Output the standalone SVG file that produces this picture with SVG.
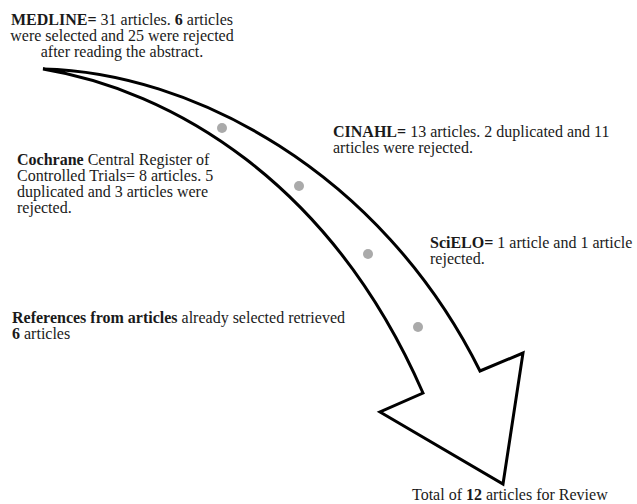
<svg xmlns="http://www.w3.org/2000/svg" width="637" height="504" viewBox="0 0 637 504">
<style>
text{font-family:"Liberation Serif","Times New Roman",serif;font-size:16px;fill:#1a1a1a}
.b{font-weight:bold}
.dot{fill:#aaaaaa}
</style>
<rect width="637" height="504" fill="#ffffff"/>
<g id="connectors">
<path d="M43,69 C190,72 380,170 480,371 L523,353 L503,484 L380,412 L423,393 C330,180 170,90 43,69 Z" fill="#ffffff" stroke="#000000" stroke-width="3" stroke-linejoin="miter"/>
<circle class="dot" cx="222" cy="128" r="5"/>
<circle class="dot" cx="299" cy="186" r="5"/>
<circle class="dot" cx="368" cy="254" r="5"/>
<circle class="dot" cx="418" cy="327" r="5"/>
</g>
<g id="medline">
<text x="122" y="25" text-anchor="middle"><tspan class="b">MEDLINE=</tspan> 31 articles. <tspan class="b">6</tspan> articles</text>
<text x="122" y="41" text-anchor="middle">were selected and 25 were rejected</text>
<text x="122" y="57" text-anchor="middle">after reading the abstract.</text>
</g>
<g id="cochrane">
<text x="17" y="165"><tspan class="b">Cochrane</tspan> Central Register of</text>
<text x="17" y="181">Controlled Trials= 8 articles. 5</text>
<text x="17" y="197">duplicated and 3 articles were</text>
<text x="17" y="213">rejected.</text>
</g>
<g id="cinahl">
<text x="333" y="137"><tspan class="b">CINAHL=</tspan> 13 articles. 2 duplicated and 11</text>
<text x="333" y="153">articles were rejected.</text>
</g>
<g id="scielo">
<text x="430" y="248"><tspan class="b">SciELO=</tspan> 1 article and 1 article</text>
<text x="430" y="264">rejected.</text>
</g>
<g id="references">
<text x="12" y="323"><tspan class="b">References from articles</tspan> already selected retrieved</text>
<text x="12" y="339"><tspan class="b">6</tspan> articles</text>
</g>
<g id="total">
<text x="412" y="500">Total of <tspan class="b">12</tspan> articles for Review</text>
</g>
</svg>
